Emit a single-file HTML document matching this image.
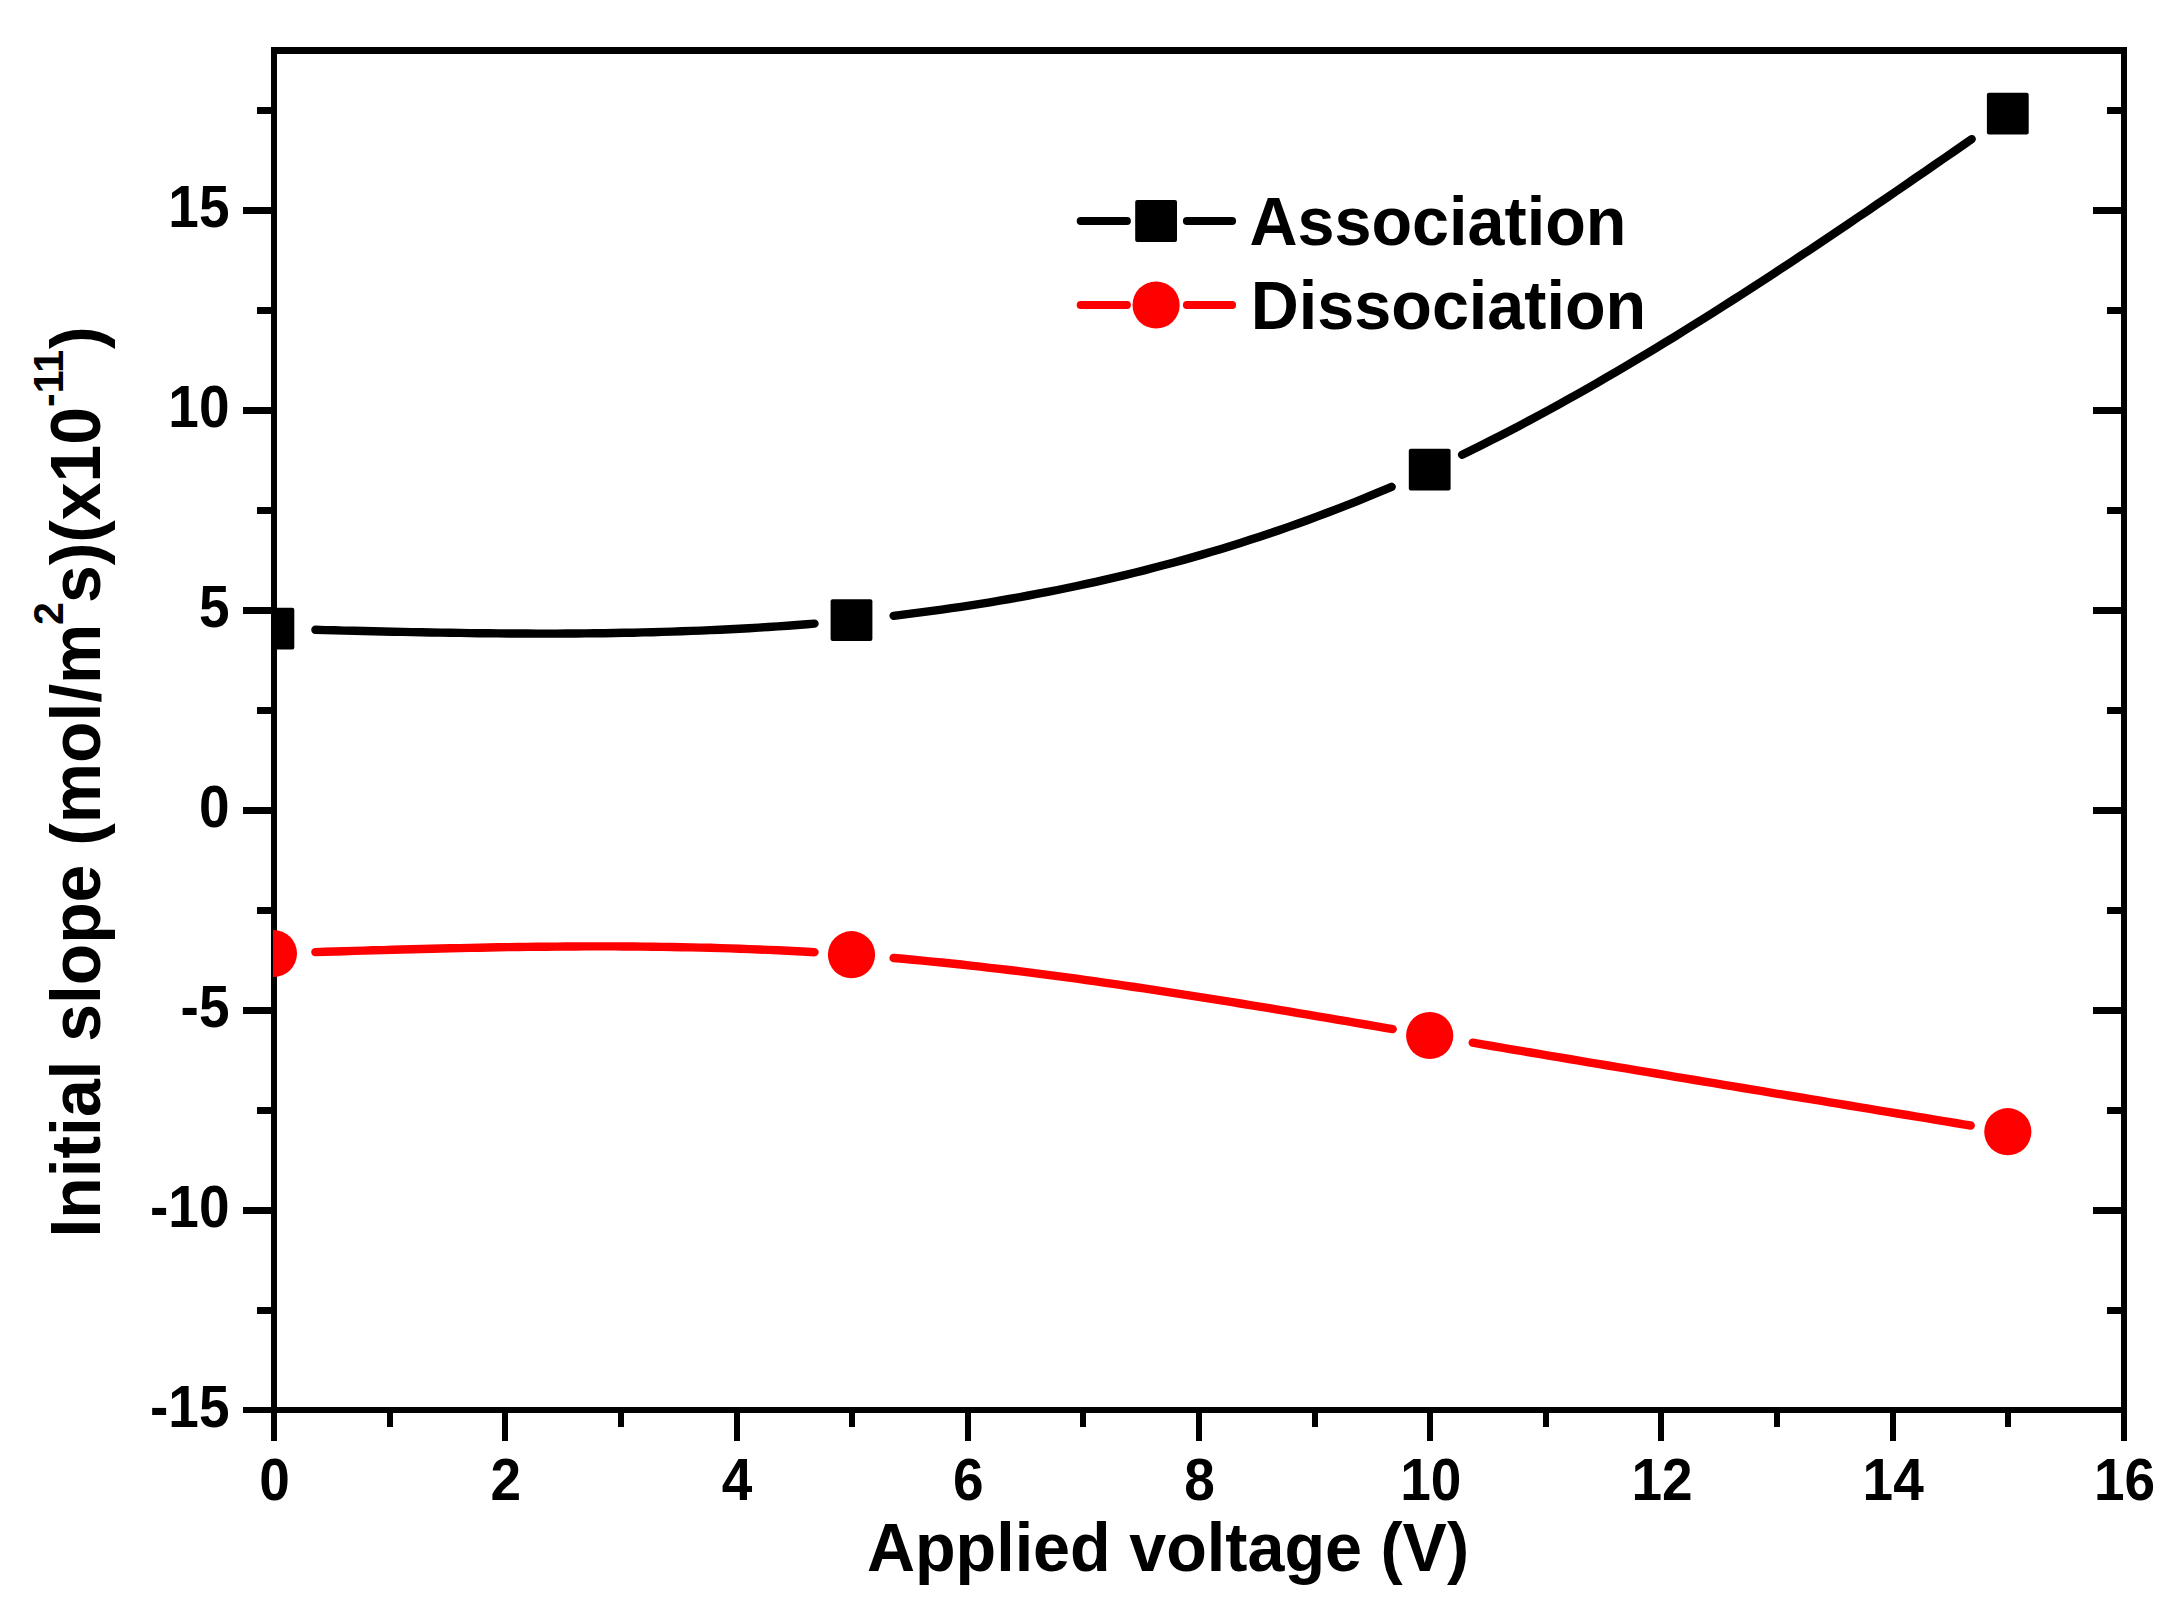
<!DOCTYPE html>
<html lang="en"><head><meta charset="utf-8"><title>Initial slope vs applied voltage</title>
<style>html,body{margin:0;padding:0;background:#fff}body{width:2182px;height:1608px;overflow:hidden}svg{display:block}text{font-family:"Liberation Sans",sans-serif;font-weight:bold;fill:#000}.tl{font-size:55px}.ti{font-size:66.5px}</style></head><body>
<svg width="2182" height="1608" viewBox="0 0 2182 1608">
<rect width="2182" height="1608" fill="#fff"/>
<defs><clipPath id="plot"><rect x="273" y="50" width="1852" height="1361"/></clipPath></defs>
<g fill="#000" shape-rendering="crispEdges"><rect x="271" y="47" width="6" height="1366"/><rect x="2121" y="47" width="6" height="1366"/><rect x="271" y="47" width="1856" height="7"/><rect x="271" y="1407" width="1856" height="6"/><rect x="243" y="1407" width="30" height="6" rx="1.5"/><rect x="257" y="1307" width="16" height="7" rx="1.5"/><rect x="2107" y="1307" width="16" height="7" rx="1.5"/><rect x="243" y="1207" width="30" height="7" rx="1.5"/><rect x="2093" y="1207" width="30" height="7" rx="1.5"/><rect x="257" y="1107" width="16" height="7" rx="1.5"/><rect x="2107" y="1107" width="16" height="7" rx="1.5"/><rect x="243" y="1007" width="30" height="7" rx="1.5"/><rect x="2093" y="1007" width="30" height="7" rx="1.5"/><rect x="257" y="907" width="16" height="7" rx="1.5"/><rect x="2107" y="907" width="16" height="7" rx="1.5"/><rect x="243" y="807" width="30" height="7" rx="1.5"/><rect x="2093" y="807" width="30" height="7" rx="1.5"/><rect x="257" y="707" width="16" height="7" rx="1.5"/><rect x="2107" y="707" width="16" height="7" rx="1.5"/><rect x="243" y="607" width="30" height="7" rx="1.5"/><rect x="2093" y="607" width="30" height="7" rx="1.5"/><rect x="257" y="507" width="16" height="7" rx="1.5"/><rect x="2107" y="507" width="16" height="7" rx="1.5"/><rect x="243" y="407" width="30" height="7" rx="1.5"/><rect x="2093" y="407" width="30" height="7" rx="1.5"/><rect x="257" y="307" width="16" height="7" rx="1.5"/><rect x="2107" y="307" width="16" height="7" rx="1.5"/><rect x="243" y="207" width="30" height="7" rx="1.5"/><rect x="2093" y="207" width="30" height="7" rx="1.5"/><rect x="257" y="107" width="16" height="7" rx="1.5"/><rect x="2107" y="107" width="16" height="7" rx="1.5"/><rect x="271" y="1411" width="6" height="30" rx="1.5"/><rect x="387" y="1411" width="6" height="16" rx="1.5"/><rect x="502" y="1411" width="6" height="30" rx="1.5"/><rect x="618" y="1411" width="6" height="16" rx="1.5"/><rect x="734" y="1411" width="6" height="30" rx="1.5"/><rect x="849" y="1411" width="6" height="16" rx="1.5"/><rect x="965" y="1411" width="6" height="30" rx="1.5"/><rect x="1080" y="1411" width="6" height="16" rx="1.5"/><rect x="1196" y="1411" width="6" height="30" rx="1.5"/><rect x="1312" y="1411" width="6" height="16" rx="1.5"/><rect x="1427" y="1411" width="6" height="30" rx="1.5"/><rect x="1543" y="1411" width="6" height="16" rx="1.5"/><rect x="1658" y="1411" width="6" height="30" rx="1.5"/><rect x="1774" y="1411" width="6" height="16" rx="1.5"/><rect x="1890" y="1411" width="6" height="30" rx="1.5"/><rect x="2005" y="1411" width="6" height="16" rx="1.5"/><rect x="2121" y="1411" width="6" height="30" rx="1.5"/></g>
<g fill="none" stroke-width="8.4" stroke-linecap="round" stroke-linejoin="round">
<path stroke="#000" d="M315.4 629.8 L325.1 630.1 L334.7 630.3 L344.3 630.6 L354.0 630.8 L363.6 631.0 L373.2 631.3 L382.9 631.5 L392.5 631.7 L402.2 631.9 L411.8 632.1 L421.4 632.3 L431.1 632.5 L440.7 632.6 L450.3 632.8 L460.0 632.9 L469.6 633.1 L479.2 633.2 L488.9 633.3 L498.5 633.4 L508.1 633.5 L517.8 633.5 L527.4 633.5 L537.0 633.6 L546.7 633.6 L556.3 633.6 L566.0 633.5 L575.6 633.5 L585.2 633.4 L594.9 633.3 L604.5 633.2 L614.1 633.0 L623.8 632.8 L633.4 632.7 L643.0 632.4 L652.7 632.2 L662.3 631.9 L671.9 631.6 L681.6 631.3 L691.2 630.9 L700.8 630.6 L710.5 630.1 L720.1 629.7 L729.8 629.2 L739.4 628.7 L749.0 628.2 L758.7 627.6 L768.3 627.0 L777.9 626.4 L787.6 625.7 L797.2 625.0 L806.8 624.2 L814.5 623.6 M893.6 615.8 L903.2 614.6 L912.8 613.4 L922.5 612.2 L932.1 610.9 L941.7 609.6 L951.4 608.2 L961.0 606.8 L970.6 605.3 L980.3 603.8 L989.9 602.3 L999.5 600.7 L1009.2 599.0 L1018.8 597.3 L1028.5 595.5 L1038.1 593.7 L1047.7 591.9 L1057.4 590.0 L1067.0 588.0 L1076.6 586.0 L1086.3 583.9 L1095.9 581.8 L1105.5 579.6 L1115.2 577.4 L1124.8 575.1 L1134.4 572.7 L1144.1 570.3 L1153.7 567.8 L1163.3 565.3 L1173.0 562.7 L1182.6 560.1 L1192.3 557.4 L1201.9 554.6 L1211.5 551.8 L1221.2 548.9 L1230.8 545.9 L1240.4 542.9 L1250.1 539.8 L1259.7 536.7 L1269.3 533.5 L1279.0 530.2 L1288.6 526.9 L1298.2 523.5 L1307.9 520.0 L1317.5 516.4 L1327.2 512.8 L1336.8 509.1 L1346.4 505.4 L1356.1 501.6 L1365.7 497.7 L1375.3 493.7 L1385.0 489.7 L1391.7 486.8 M1462.1 454.7 L1471.8 450.0 L1481.4 445.2 L1491.1 440.3 L1500.7 435.4 L1510.4 430.4 L1520.0 425.4 L1529.7 420.3 L1539.3 415.1 L1549.0 409.9 L1558.6 404.6 L1568.3 399.2 L1577.9 393.8 L1587.6 388.3 L1597.2 382.8 L1606.9 377.2 L1616.5 371.6 L1626.2 365.9 L1635.8 360.2 L1645.5 354.4 L1655.1 348.6 L1664.8 342.7 L1674.4 336.8 L1684.1 330.8 L1693.7 324.8 L1703.4 318.8 L1713.0 312.7 L1722.7 306.5 L1732.3 300.4 L1742.0 294.2 L1751.6 287.9 L1761.3 281.7 L1770.9 275.4 L1780.6 269.0 L1790.3 262.7 L1799.9 256.3 L1809.6 249.9 L1819.2 243.4 L1828.9 237.0 L1838.5 230.5 L1848.2 224.0 L1857.8 217.4 L1867.5 210.9 L1877.1 204.3 L1886.8 197.7 L1896.4 191.1 L1906.1 184.5 L1915.7 177.8 L1925.4 171.2 L1935.0 164.5 L1944.7 157.9 L1954.3 151.2 L1964.0 144.5 L1971.7 139.1"/>
<path stroke="#f00" d="M315.4 952.1 L325.1 951.8 L334.7 951.5 L344.3 951.2 L354.0 950.9 L363.6 950.6 L373.2 950.3 L382.9 950.1 L392.5 949.8 L402.2 949.5 L411.8 949.2 L421.4 949.0 L431.1 948.7 L440.7 948.5 L450.3 948.3 L460.0 948.1 L469.6 947.9 L479.2 947.7 L488.9 947.5 L498.5 947.3 L508.1 947.1 L517.8 947.0 L527.4 946.9 L537.0 946.8 L546.7 946.7 L556.3 946.6 L566.0 946.5 L575.6 946.5 L585.2 946.4 L594.9 946.4 L604.5 946.4 L614.1 946.4 L623.8 946.5 L633.4 946.5 L643.0 946.6 L652.7 946.7 L662.3 946.9 L671.9 947.0 L681.6 947.2 L691.2 947.4 L700.8 947.6 L710.5 947.8 L720.1 948.1 L729.8 948.4 L739.4 948.7 L749.0 949.1 L758.7 949.5 L768.3 949.9 L777.9 950.3 L787.6 950.8 L797.2 951.3 L806.8 951.8 L814.5 952.2 M893.6 958.0 L903.2 958.8 L912.8 959.7 L922.5 960.6 L932.1 961.6 L941.7 962.5 L951.4 963.5 L961.0 964.5 L970.6 965.6 L980.3 966.7 L989.9 967.8 L999.5 968.9 L1009.2 970.0 L1018.8 971.2 L1028.5 972.4 L1038.1 973.6 L1047.7 974.9 L1057.4 976.1 L1067.0 977.4 L1076.6 978.7 L1086.3 980.1 L1095.9 981.4 L1105.5 982.8 L1115.2 984.2 L1124.8 985.6 L1134.4 987.0 L1144.1 988.4 L1153.7 989.9 L1163.3 991.3 L1173.0 992.8 L1182.6 994.3 L1192.3 995.8 L1201.9 997.3 L1211.5 998.8 L1221.2 1000.4 L1230.8 1001.9 L1240.4 1003.5 L1250.1 1005.1 L1259.7 1006.6 L1269.3 1008.2 L1279.0 1009.8 L1288.6 1011.4 L1298.2 1013.1 L1307.9 1014.7 L1317.5 1016.3 L1327.2 1017.9 L1336.8 1019.6 L1346.4 1021.2 L1356.1 1022.8 L1365.7 1024.5 L1375.3 1026.1 L1385.0 1027.8 L1392.7 1029.1 M1472.7 1042.7 L1482.4 1044.4 L1492.0 1046.0 L1501.7 1047.6 L1511.3 1049.3 L1521.0 1050.9 L1530.6 1052.5 L1540.3 1054.1 L1549.9 1055.8 L1559.6 1057.4 L1569.2 1059.0 L1578.9 1060.6 L1588.5 1062.3 L1598.2 1063.9 L1607.8 1065.5 L1617.5 1067.1 L1627.1 1068.7 L1636.8 1070.3 L1646.4 1071.9 L1656.1 1073.5 L1665.7 1075.1 L1675.4 1076.8 L1685.0 1078.4 L1694.7 1080.0 L1704.4 1081.6 L1714.0 1083.2 L1723.7 1084.8 L1733.3 1086.4 L1743.0 1088.0 L1752.6 1089.6 L1762.3 1091.2 L1771.9 1092.8 L1781.6 1094.4 L1791.2 1096.0 L1800.9 1097.5 L1810.5 1099.1 L1820.2 1100.7 L1829.8 1102.3 L1839.5 1103.9 L1849.1 1105.5 L1858.8 1107.1 L1868.4 1108.7 L1878.1 1110.3 L1887.7 1111.9 L1897.4 1113.5 L1907.0 1115.0 L1916.7 1116.6 L1926.3 1118.2 L1936.0 1119.8 L1945.6 1121.4 L1955.3 1123.0 L1964.9 1124.6 L1970.7 1125.5"/>
</g>
<g clip-path="url(#plot)">
<rect x="252.5" y="607.8" width="41.8" height="41.8" rx="2" fill="#000"/>
<rect x="830.6" y="599.3" width="41.8" height="41.8" rx="2" fill="#000"/>
<rect x="1408.8" y="448.8" width="41.8" height="41.8" rx="2" fill="#000"/>
<rect x="1986.9" y="92.8" width="41.8" height="41.8" rx="2" fill="#000"/>
<circle cx="273.4" cy="953.5" r="23.6" fill="#f00"/>
<circle cx="851.5" cy="954.7" r="23.6" fill="#f00"/>
<circle cx="1429.7" cy="1035.5" r="23.6" fill="#f00"/>
<circle cx="2007.8" cy="1131.7" r="23.6" fill="#f00"/>
</g>
<g fill="none" stroke-width="8" stroke-linecap="round">
<path stroke="#000" d="M1080.7 221.0 H1126.9 M1186.9 221.0 H1232.1"/>
<path stroke="#f00" d="M1080.7 305.0 H1126.9 M1186.9 305.0 H1232.1"/>
</g>
<rect x="1135.2" y="200.1" width="41.8" height="41.8" rx="2" fill="#000"/>
<circle cx="1156.1" cy="305.0" r="23.6" fill="#f00"/>
<text class="ti" transform="translate(1249.5 244.8) scale(1 1.03)">Association</text>
<text class="ti" transform="translate(1250.8 328.5) scale(1 1.03)">Dissociation</text>
<text class="tl" transform="translate(229.5 1426.7) scale(1 1.075)" text-anchor="end">-15</text>
<text class="tl" transform="translate(229.5 1226.7) scale(1 1.075)" text-anchor="end">-10</text>
<text class="tl" transform="translate(229.5 1026.7) scale(1 1.075)" text-anchor="end">-5</text>
<text class="tl" transform="translate(229.5 826.7) scale(1 1.075)" text-anchor="end">0</text>
<text class="tl" transform="translate(229.5 626.7) scale(1 1.075)" text-anchor="end">5</text>
<text class="tl" transform="translate(229.5 426.7) scale(1 1.075)" text-anchor="end">10</text>
<text class="tl" transform="translate(229.5 226.7) scale(1 1.075)" text-anchor="end">15</text>
<text class="tl" transform="translate(274.5 1499.5) scale(1 1.075)" text-anchor="middle">0</text>
<text class="tl" transform="translate(505.8 1499.5) scale(1 1.075)" text-anchor="middle">2</text>
<text class="tl" transform="translate(737.0 1499.5) scale(1 1.075)" text-anchor="middle">4</text>
<text class="tl" transform="translate(968.2 1499.5) scale(1 1.075)" text-anchor="middle">6</text>
<text class="tl" transform="translate(1199.5 1499.5) scale(1 1.075)" text-anchor="middle">8</text>
<text class="tl" transform="translate(1430.8 1499.5) scale(1 1.075)" text-anchor="middle">10</text>
<text class="tl" transform="translate(1662.0 1499.5) scale(1 1.075)" text-anchor="middle">12</text>
<text class="tl" transform="translate(1893.2 1499.5) scale(1 1.075)" text-anchor="middle">14</text>
<text class="tl" transform="translate(2124.5 1499.5) scale(1 1.075)" text-anchor="middle">16</text>
<text class="ti" transform="translate(1168 1570.8) scale(1 1.03)" text-anchor="middle">Applied voltage (V)</text>
<text class="ti" transform="translate(100.0 0) rotate(-90) scale(1 1.03)"><tspan x="-1237.6" y="0.0" font-size="67.8">Initial slope (mol/m</tspan><tspan x="-625.0" y="-36.0" font-size="41.0">2</tspan><tspan x="-603.0" y="0.0" font-size="67.8">s)(x10</tspan><tspan x="-407.0" y="-36.0" font-size="41.0">-11</tspan><tspan x="-349.0" y="0.0" font-size="67.8">)</tspan></text>
</svg></body></html>
